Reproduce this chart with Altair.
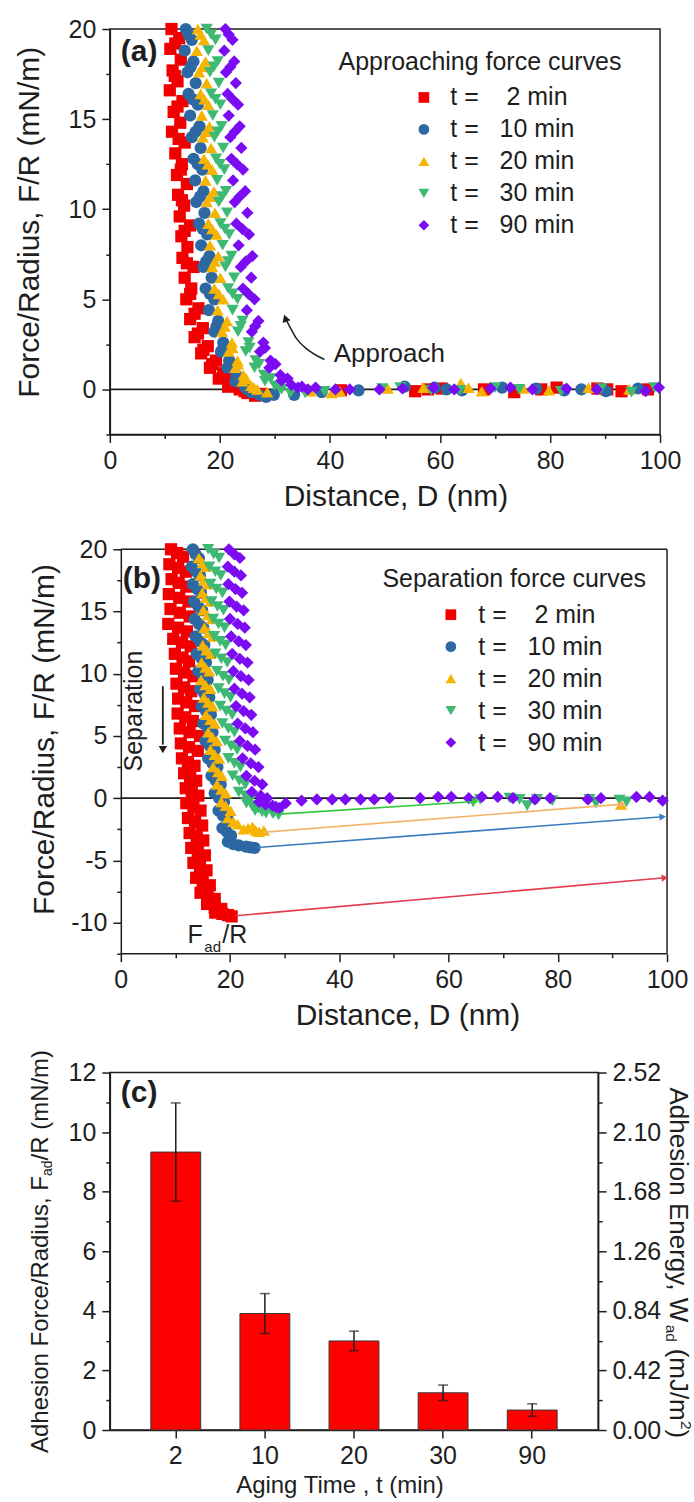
import math
import altair as alt
import pandas as pd

FONT = "Liberation Sans"
INK = "#1e1e1e"

# ---------------------------------------------------------------- series
series_labels = [
    "t =\u00a0\u00a0\u00a0\u00a02 min",
    "t =\u00a0\u00a0\u00a010 min",
    "t =\u00a0\u00a0\u00a020 min",
    "t =\u00a0\u00a0\u00a030 min",
    "t =\u00a0\u00a0\u00a090 min",
]
series_colors = ["#F20000", "#2D68A3", "#F6B400", "#3DB974", "#7B0BF2"]
series_shapes = ["square", "circle", "triangle-up", "triangle-down", "diamond"]

# ---------------------------------------------------------------- (a) approach curves: (D nm, F/R mN/m)
approach_2min = [
    (11.2, 20.0), (12.6, 19.5), (11.0, 18.9), (12.9, 18.3), (11.4, 17.7), (12.3, 17.1),
    (10.9, 16.6), (13.2, 16.0), (11.6, 15.4), (12.8, 14.8), (11.3, 14.3), (13.6, 13.7),
    (11.9, 13.1), (13.1, 12.5), (12.2, 11.9), (14.0, 11.4), (12.4, 10.8), (13.5, 10.2),
    (12.7, 9.6), (14.6, 9.1), (13.0, 8.5), (14.1, 7.9), (13.2, 7.3), (15.2, 6.8),
    (13.6, 6.2), (14.8, 5.6), (13.9, 5.0), (16.1, 4.5), (14.6, 3.9), (16.9, 3.4),
    (15.4, 2.9), (17.8, 2.4), (16.6, 2.0), (19.3, 1.6), (18.2, 1.2), (20.6, 0.9),
    (19.8, 0.6), (22.3, 0.35), (21.5, 0.15), (23.6, 0.0), (25.0, -0.2), (26.4, -0.35),
    (27.5, -0.25),
    (11.9, 19.2), (11.8, 17.4), (12.3, 15.7), (12.5, 13.9), (12.9, 12.2), (13.1, 10.5),
    (13.6, 8.8), (14.0, 7.0), (14.6, 5.3), (15.4, 4.2), (16.0, 3.1), (17.0, 2.2),
    (18.6, 1.4), (20.9, 0.75), (23.0, 0.25), (24.5, -0.1),
    (42.0, -0.05), (55.5, -0.1), (57.8, 0.0), (60.3, 0.05), (68.0, 0.0), (73.5, -0.15),
    (78.4, 0.0), (81.2, 0.1), (88.6, 0.05), (90.4, 0.0), (93.0, -0.1), (97.8, 0.0),
]
approach_10min = [
    (13.8, 20.0), (14.9, 19.4), (13.6, 18.8), (15.2, 18.2), (14.1, 17.6), (15.6, 17.0),
    (14.3, 16.4), (16.0, 15.8), (14.6, 15.2), (16.3, 14.6), (14.9, 14.0), (16.5, 13.4),
    (15.2, 12.8), (16.8, 12.2), (15.5, 11.6), (17.0, 11.0), (15.7, 10.4), (17.2, 9.8),
    (16.2, 9.2), (17.7, 8.6), (16.6, 8.0), (18.1, 7.4), (17.0, 6.8), (18.5, 6.2),
    (17.4, 5.6), (19.0, 5.0), (18.0, 4.4), (19.7, 3.8), (19.0, 3.2), (20.6, 2.6),
    (20.2, 2.1), (21.7, 1.6), (21.4, 1.2), (23.0, 0.8), (22.8, 0.45), (24.5, 0.15),
    (25.6, -0.15), (27.2, -0.3), (28.4, -0.42), (29.8, -0.3),
    (14.3, 19.7), (14.7, 17.9), (15.1, 16.1), (15.6, 14.3), (16.0, 12.5), (16.4, 10.7),
    (16.9, 8.9), (17.5, 7.1), (18.2, 5.3), (19.4, 3.5), (20.6, 2.3), (21.8, 1.4),
    (23.6, 0.6), (25.0, 0.0),
    (33.5, -0.3), (38.5, -0.15), (45.2, -0.05), (53.6, 0.15), (59.0, 0.1), (61.2, 0.0),
    (64.0, -0.05), (71.3, 0.1), (77.5, 0.05), (82.6, -0.05), (85.7, 0.0), (90.2, -0.1),
    (96.0, 0.05),
]
approach_20min = [
    (16.0, 20.0), (17.1, 19.4), (15.8, 18.8), (17.4, 18.2), (16.2, 17.6), (17.6, 17.0),
    (16.5, 16.4), (17.9, 15.8), (16.7, 15.2), (18.1, 14.6), (16.9, 14.0), (18.4, 13.4),
    (17.1, 12.8), (18.6, 12.2), (17.4, 11.6), (18.9, 11.0), (17.6, 10.4), (19.1, 9.8),
    (17.9, 9.2), (19.4, 8.6), (18.2, 8.0), (19.7, 7.4), (18.6, 6.8), (20.1, 6.2),
    (19.0, 5.6), (20.6, 5.0), (19.6, 4.4), (21.3, 3.8), (20.4, 3.2), (22.2, 2.6),
    (21.6, 2.1), (23.2, 1.6), (22.8, 1.2), (24.3, 0.8), (24.1, 0.45), (25.7, 0.2),
    (26.8, 0.0), (28.6, -0.15),
    (16.5, 19.7), (16.8, 17.9), (17.2, 16.1), (17.5, 14.3), (17.8, 12.5), (18.2, 10.7),
    (18.6, 8.9), (19.1, 7.1), (19.8, 5.3), (20.9, 3.5), (22.3, 2.3), (23.3, 1.4),
    (24.8, 0.6), (26.2, 0.1),
    (36.5, -0.1), (40.3, -0.2), (41.8, -0.1), (50.5, 0.05), (57.0, 0.1), (63.8, 0.35),
    (65.2, 0.1), (67.6, -0.1), (75.2, 0.05), (79.8, -0.05), (87.0, 0.1), (94.4, 0.0),
]
approach_30min = [
    (17.6, 20.0), (19.2, 19.4), (17.9, 18.8), (19.6, 18.2), (18.2, 17.6), (19.8, 17.0),
    (18.4, 16.4), (20.1, 15.8), (18.7, 15.2), (20.3, 14.6), (19.0, 14.0), (20.6, 13.4),
    (19.3, 12.8), (20.8, 12.2), (19.5, 11.6), (21.1, 11.0), (19.8, 10.4), (21.3, 9.8),
    (20.1, 9.2), (21.7, 8.6), (20.5, 8.0), (22.1, 7.4), (21.0, 6.8), (22.6, 6.2),
    (21.5, 5.6), (23.2, 5.0), (22.3, 4.4), (24.1, 3.8), (23.3, 3.2), (25.2, 2.6),
    (24.7, 2.1), (26.5, 1.6), (26.3, 1.2), (28.0, 0.8), (28.2, 0.45), (30.0, 0.2),
    (31.2, 0.0), (32.8, -0.2),
    (18.4, 19.7), (18.9, 17.9), (19.2, 16.1), (19.6, 14.3), (20.0, 12.5), (20.4, 10.7),
    (20.9, 8.9), (21.5, 7.1), (22.3, 5.3), (23.8, 3.5), (25.4, 2.3), (27.1, 1.4),
    (29.2, 0.6), (30.8, 0.1),
    (35.5, -0.2), (39.0, -0.1), (49.5, 0.05), (52.8, 0.1), (58.4, -0.05), (63.6, -0.05),
    (70.0, 0.1), (74.4, 0.0), (82.0, -0.1), (89.3, 0.05), (94.8, -0.15), (99.0, 0.1),
]
approach_90min = [
    (21.0, 20.0), (22.3, 19.4), (20.8, 18.8), (22.6, 18.2), (21.1, 17.6), (22.9, 17.0),
    (21.4, 16.4), (23.3, 15.8), (21.6, 15.2), (23.6, 14.6), (21.9, 14.0), (23.9, 13.4),
    (22.1, 12.8), (24.2, 12.2), (22.4, 11.6), (24.6, 11.0), (22.7, 10.4), (25.0, 9.8),
    (23.0, 9.2), (25.3, 8.6), (23.4, 8.0), (25.9, 7.4), (23.8, 6.8), (25.7, 6.2),
    (24.2, 5.6), (26.3, 5.0), (24.9, 4.4), (27.0, 3.8), (25.8, 3.2), (27.9, 2.6),
    (27.3, 2.1), (29.2, 1.6), (29.0, 1.2), (31.0, 0.8), (31.2, 0.5), (33.0, 0.25),
    (34.2, 0.1), (36.0, 0.0),
    (21.6, 19.7), (21.9, 17.9), (22.3, 16.1), (22.7, 14.3), (23.1, 12.5), (23.6, 10.7),
    (24.1, 8.9), (24.7, 7.1), (25.2, 5.3), (26.4, 3.5), (28.2, 2.3), (30.1, 1.4),
    (32.3, 0.6), (34.9, 0.15),
    (37.4, 0.1), (41.0, 0.0), (43.6, 0.0), (49.0, 0.0), (53.2, 0.05), (58.8, 0.1),
    (62.6, 0.0), (69.2, 0.05), (72.8, 0.1), (76.8, 0.0), (83.0, 0.05), (88.5, 0.0),
    (97.4, -0.1), (99.8, 0.1),
]

# ---------------------------------------------------------------- (b) separation curves
separation_2min = [
    (9.2, 20.0), (11.4, 19.4), (8.9, 18.8), (11.9, 18.2), (9.3, 17.6), (12.0, 17.0),
    (8.8, 16.4), (12.4, 15.8), (9.1, 15.2), (12.6, 14.6), (8.7, 14.0), (12.1, 13.4),
    (9.6, 12.8), (12.8, 12.2), (9.9, 11.6), (12.5, 11.0), (10.1, 10.4), (13.3, 9.8),
    (10.2, 9.2), (12.9, 8.6), (10.5, 8.0), (13.6, 7.4), (10.4, 6.8), (13.2, 6.2),
    (10.8, 5.6), (14.5, 5.0), (11.0, 4.4), (14.1, 3.8), (11.2, 3.2), (13.5, 2.6),
    (11.6, 2.0), (13.8, 1.4), (11.9, 0.8), (14.2, 0.2), (12.0, -0.4), (14.6, -1.0),
    (12.3, -1.6), (14.9, -2.2), (12.6, -2.8), (15.1, -3.4), (12.9, -4.0), (15.4, -4.6),
    (13.3, -5.2), (15.7, -5.8), (13.8, -6.4), (16.3, -7.0), (14.6, -7.6), (17.2, -8.1),
    (15.8, -8.5), (18.4, -8.9), (17.3, -9.2), (19.6, -9.4), (20.3, -9.5),
    (10.3, 19.7), (10.5, 18.5), (10.6, 17.3), (10.7, 16.1), (10.8, 14.9), (10.5, 13.7),
    (11.2, 12.5), (11.3, 11.3), (11.6, 10.1), (11.6, 8.9), (12.0, 7.7), (11.8, 6.5),
    (12.6, 5.3), (12.5, 4.1), (12.3, 2.9), (12.7, 1.7), (13.0, 0.5), (13.3, -0.7),
    (13.6, -1.9), (13.9, -3.1), (14.1, -4.3), (14.5, -5.5), (15.0, -6.7), (15.9, -7.9),
    (17.2, -8.8), (18.6, -9.3),
]
separation_10min = [
    (13.2, 20.0), (14.3, 19.3), (13.0, 18.6), (14.5, 17.9), (13.2, 17.2), (14.7, 16.5),
    (13.4, 15.8), (14.9, 15.1), (13.5, 14.4), (15.1, 13.7), (13.7, 13.0), (15.3, 12.3),
    (13.9, 11.6), (15.6, 10.9), (14.2, 10.2), (15.9, 9.5), (14.5, 8.8), (16.2, 8.1),
    (14.8, 7.4), (16.5, 6.7), (15.1, 6.0), (16.8, 5.3), (15.5, 4.6), (17.2, 3.9),
    (16.0, 3.2), (17.7, 2.5), (16.6, 1.8), (18.3, 1.1), (17.2, 0.4), (18.9, -0.3),
    (17.9, -1.0), (19.6, -1.7), (18.6, -2.4), (20.2, -3.0), (19.6, -3.5), (21.6, -3.8),
    (22.9, -3.9), (24.5, -4.0),
    (13.7, 19.6), (13.8, 18.2), (14.0, 16.8), (14.2, 15.4), (14.3, 14.0), (14.5, 12.6),
    (14.8, 11.2), (15.0, 9.8), (15.3, 8.4), (15.6, 7.0), (16.0, 5.6), (16.3, 4.2),
    (16.8, 2.8), (17.4, 1.4), (18.0, 0.0), (18.7, -1.4), (19.4, -2.7), (20.6, -3.7),
    (23.7, -3.95),
]
separation_20min = [
    (14.3, 19.3), (15.6, 18.6), (14.6, 17.9), (16.0, 17.2), (14.9, 16.5), (16.4, 15.8),
    (15.1, 15.1), (16.7, 14.4), (15.3, 13.7), (16.9, 13.0), (15.0, 12.3), (16.5, 11.6),
    (14.8, 10.9), (16.2, 10.2), (14.7, 9.5), (16.4, 8.8), (15.2, 8.1), (16.8, 7.4),
    (15.6, 6.7), (17.2, 6.0), (16.0, 5.3), (17.6, 4.6), (16.4, 3.9), (18.0, 3.2),
    (16.9, 2.5), (18.5, 1.8), (17.6, 1.1), (19.2, 0.4), (18.4, -0.3), (20.1, -1.0),
    (19.6, -1.6), (21.4, -2.1), (22.5, -2.5), (24.1, -2.3), (25.3, -2.7), (26.2, -2.6),
    (15.0, 18.9), (15.3, 17.5), (15.6, 16.1), (15.9, 14.7), (16.1, 13.3), (15.7, 11.9),
    (15.5, 10.5), (15.5, 9.1), (16.0, 7.7), (16.4, 6.3), (16.8, 4.9), (17.2, 3.5),
    (17.8, 2.1), (18.4, 0.7), (19.2, -0.6), (20.6, -1.9), (23.3, -2.4), (24.7, -2.6),
    (91.6, -0.5),
]
separation_30min = [
    (16.0, 20.0), (18.0, 19.3), (16.2, 18.6), (18.3, 17.9), (16.4, 17.2), (18.6, 16.5),
    (16.6, 15.8), (18.8, 15.1), (16.9, 14.4), (19.0, 13.7), (17.1, 13.0), (19.2, 12.3),
    (17.3, 11.6), (19.5, 10.9), (17.6, 10.2), (19.8, 9.5), (17.9, 8.8), (20.1, 8.1),
    (18.2, 7.4), (20.4, 6.7), (18.6, 6.0), (20.8, 5.3), (19.1, 4.6), (21.3, 3.9),
    (19.7, 3.2), (21.9, 2.5), (20.5, 1.8), (22.8, 1.1), (21.6, 0.5), (23.9, 0.0),
    (23.0, -0.4), (25.2, -0.8), (24.6, -1.0), (26.6, -1.2), (27.7, -1.1), (28.9, -1.35),
    (17.0, 19.6), (17.3, 18.2), (17.5, 16.8), (17.7, 15.4), (17.9, 14.0), (18.2, 12.6),
    (18.4, 11.2), (18.7, 9.8), (19.0, 8.4), (19.3, 7.0), (19.7, 5.6), (20.2, 4.2),
    (20.8, 2.8), (21.7, 1.4), (22.8, 0.2), (24.0, -0.6), (25.9, -1.1), (27.9, -1.25),
    (64.5, -0.3), (65.8, -0.1), (71.2, 0.0), (73.0, -0.1), (74.4, -0.6), (76.2, -0.1),
    (79.0, -0.2), (85.8, -0.1), (87.0, -0.4), (91.3, -0.15), (92.6, -0.3),
]
separation_90min = [
    (19.8, 20.0), (21.8, 19.3), (19.6, 18.6), (22.0, 17.9), (19.7, 17.2), (22.2, 16.5),
    (19.9, 15.8), (22.5, 15.1), (20.0, 14.4), (22.7, 13.7), (20.2, 13.0), (22.9, 12.3),
    (20.4, 11.6), (23.2, 10.9), (20.6, 10.2), (23.4, 9.5), (20.8, 8.8), (23.6, 8.1),
    (21.1, 7.4), (23.9, 6.7), (21.4, 6.0), (24.2, 5.3), (21.8, 4.6), (24.6, 3.9),
    (22.3, 3.2), (25.2, 2.5), (23.0, 1.8), (25.9, 1.1), (24.0, 0.5), (26.8, 0.0),
    (25.3, -0.3), (27.8, -0.6), (29.0, -0.8), (30.2, -0.4),
    (20.8, 19.6), (20.8, 18.2), (21.0, 16.8), (21.2, 15.4), (21.4, 14.0), (21.6, 12.6),
    (21.8, 11.2), (22.0, 9.8), (22.2, 8.4), (22.5, 7.0), (22.8, 5.6), (23.2, 4.2),
    (23.8, 2.8), (24.5, 1.4), (25.6, 0.2), (26.5, -0.5), (28.4, -0.7),
    (33.1, -0.2), (35.9, -0.1), (38.7, -0.1), (41.1, -0.1), (43.9, -0.1), (46.4, -0.1),
    (49.2, 0.0), (54.8, 0.0), (58.1, 0.1), (60.5, 0.1), (63.7, 0.0), (66.1, 0.1),
    (69.0, 0.1), (71.8, 0.0), (75.8, -0.1), (78.6, 0.0), (85.5, -0.1), (87.9, 0.0),
    (94.4, 0.1), (96.8, 0.1), (99.2, -0.2),
]

# jump-out on separation: from the adhesion minimum to where the surfaces land
jump_start_d = [21.0, 25.0, 25.8, 29.0]
jump_start_f = [-9.45, -3.96, -2.75, -1.28]
jump_end_d = [99.6, 99.2, 91.9, 64.9]
jump_end_f = [-6.4, -1.5, -0.48, -0.27]
jump_colors = ["#E63B4E", "#3A7CBF", "#F2B46A", "#33C93A"]

# ---------------------------------------------------------------- (c) adhesion vs aging time
aging_times = ["2", "10", "20", "30", "90"]
adhesion_force = [9.33, 3.91, 2.99, 1.25, 0.67]
adhesion_force_err = [1.65, 0.67, 0.33, 0.26, 0.21]
energy_ticks = [0.0, 0.21, 0.42, 0.63, 0.84, 1.05, 1.26, 1.47, 1.68, 1.89, 2.10, 2.31, 2.52]

# ---------------------------------------------------------------- helpers
MARK_SIZE = 150


def curve_frame(curves):
    rows = []
    for label, pts in zip(series_labels, curves):
        for d, f in pts:
            rows.append({"D": d, "F": f, "series": label})
    return pd.DataFrame(rows)


def tick_len(test):
    return {"condition": {"test": test, "value": 8}, "value": 4}


axis_common = dict(
    labelFont=FONT, labelFontSize=25, labelColor=INK,
    titleFont=FONT, titleColor=INK, titleFontWeight="normal",
    domainColor=INK, domainWidth=1.5, tickColor=INK, tickWidth=1.5,
    grid=False, labelFlush=False, labelOverlap=False,
)


def legend_for(title, x, y, sym_off, lab_off):
    return alt.Legend(
        title=title, orient="none", legendX=x, legendY=y, padding=0,
        titleFont=FONT, titleFontSize=25, titleFontWeight="normal", titleColor=INK,
        titlePadding=10, titleLimit=500,
        labelFont=FONT, labelFontSize=25, labelColor=INK, labelLimit=400,
        symbolSize=115, symbolStrokeWidth=0, symbolOffset=sym_off, labelOffset=lab_off,
        rowPadding=6,
    )


def one_row():
    return pd.DataFrame({"k": [0]})


def extent_rule(left, top, bottom):
    # invisible guide that fixes the panel's outer bounds in the stacked layout
    return alt.Chart(one_row()).mark_rule(opacity=0).encode(
        x=alt.value(-left), x2=alt.value(-left), y=alt.value(-top), y2=alt.value(bottom)
    )


def panel_label(text, x, y):
    return alt.Chart(one_row()).mark_text(
        text=text, font=FONT, fontSize=30, fontWeight="bold", color=INK,
        align="left", baseline="middle",
    ).encode(x=alt.value(x), y=alt.value(y))


dist_ticks = list(range(0, 101, 10))

# ================================================================ panel (a)
A_W, A_H = 551, 406
xa_scale = alt.Scale(domain=[0, 100], nice=False, zero=False)
ya_scale = alt.Scale(domain=[-2.5, 20], nice=False, zero=False)
force_ticks_a = [-2.5, 0, 2.5, 5, 7.5, 10, 12.5, 15, 17.5, 20]

xa_axis = alt.Axis(
    values=dist_ticks, labelExpr="datum.value % 20 === 0 ? '' + datum.value : ''",
    tickSize=tick_len("datum.value % 20 === 0"), labelPadding=6,
    title="Distance, D (nm)", titleFontSize=30, titleX=286, titleY=62,
    titleBaseline="middle", titleAlign="center", **axis_common)
ya_axis = alt.Axis(
    values=force_ticks_a, labelExpr="datum.value % 5 === 0 ? '' + datum.value : ''",
    tickSize=tick_len("datum.value % 5 === 0"), labelPadding=6,
    title="Force/Radius, F/R (mN/m)", titleFontSize=30, titleX=-80, titleY=193,
    titleAngle=270, titleBaseline="middle", titleAlign="center", **axis_common)


def xa(field):
    return alt.X(field, type="quantitative", scale=xa_scale, axis=xa_axis)


def ya(field):
    return alt.Y(field, type="quantitative", scale=ya_scale, axis=ya_axis)


df_a = curve_frame([approach_2min, approach_10min, approach_20min, approach_30min, approach_90min])
legend_a = legend_for("Approaching force curves", 229, 21, 73, 14)

zero_a = alt.Chart(pd.DataFrame({"F": [0.0]})).mark_rule(color=INK, strokeWidth=1.8).encode(y=ya("F"))

points_a = alt.Chart(df_a).mark_point(filled=True, size=MARK_SIZE, opacity=1).encode(
    x=xa("D"), y=ya("F"),
    color=alt.Color("series:N", scale=alt.Scale(domain=series_labels, range=series_colors), legend=legend_a),
    shape=alt.Shape("series:N", scale=alt.Scale(domain=series_labels, range=series_shapes), legend=legend_a),
)

approach_path = [(39.0, 1.66), (35.9, 2.22), (33.9, 2.83), (32.7, 3.49), (31.9, 3.95)]
path_df = pd.DataFrame(approach_path, columns=["D", "F"])
approach_curve = alt.Chart(path_df).mark_line(color=INK, strokeWidth=1.5, interpolate="monotone").encode(
    x=xa("D"), y=ya("F"))
approach_head = alt.Chart(path_df.tail(1)).mark_point(
    shape="triangle-up", filled=True, size=70, color=INK, opacity=1, angle=340).encode(
    x=xa("D"), y=ya("F"))
approach_text = alt.Chart(pd.DataFrame({"D": [40.7], "F": [1.94]})).mark_text(
    text="Approach", font=FONT, fontSize=26, color=INK, align="left", baseline="middle").encode(
    x=xa("D"), y=ya("F"))

panel_a = alt.layer(
    zero_a, points_a, approach_curve, approach_head, approach_text,
    panel_label("(a)", 11, 23), extent_rule(109, 27, 499),
).properties(width=A_W, height=A_H)

# ================================================================ panel (b)
B_W, B_H = 558, 405
B_X0 = -2.0  # plot frame begins a little left of D = 0
xb_scale = alt.Scale(domain=[B_X0, 100], nice=False, zero=False)
yb_scale = alt.Scale(domain=[-12.5, 20], nice=False, zero=False)
force_ticks_b = [-12.5, -10, -7.5, -5, -2.5, 0, 2.5, 5, 7.5, 10, 12.5, 15, 17.5, 20]
px_per_d = B_W / (100 - B_X0)
px_per_f = B_H / 32.5

xb_axis = alt.Axis(
    values=dist_ticks, labelExpr="datum.value % 20 === 0 ? '' + datum.value : ''",
    tickSize=tick_len("datum.value % 20 === 0"), labelPadding=6, domain=False,
    title="Distance, D (nm)", titleFontSize=30, titleX=298, titleY=62,
    titleBaseline="middle", titleAlign="center", **axis_common)
yb_axis = alt.Axis(
    values=force_ticks_b, labelExpr="datum.value % 5 === 0 ? '' + datum.value : ''",
    tickSize=tick_len("datum.value % 5 === 0"), labelPadding=6, offset=-11,
    title="Force/Radius, F/R (mN/m)", titleFontSize=30, titleX=-76, titleY=190,
    titleAngle=270, titleBaseline="middle", titleAlign="center", **axis_common)


def xb(field):
    return alt.X(field, type="quantitative", scale=xb_scale, axis=xb_axis)


def yb(field):
    return alt.Y(field, type="quantitative", scale=yb_scale, axis=yb_axis)


df_b = curve_frame([separation_2min, separation_10min, separation_20min, separation_30min, separation_90min])
legend_b = legend_for("Separation force curves", 273, 18, 56, 15)

# frame drawn from D = 0 so the left edge sits on the offset y axis
frame_df = pd.DataFrame({
    "d0": [0, 100, 0], "f0": [20, -12.5, -12.5],
    "d1": [100, 100, 100], "f1": [20, 20, -12.5],
})
frame_b = alt.Chart(frame_df).mark_rule(color=INK, strokeWidth=1.5).encode(
    x=xb("d0"), x2="d1:Q", y=yb("f0"), y2="f1:Q")

zero_b = alt.Chart(pd.DataFrame({"d0": [0], "d1": [100], "f0": [0.0]})).mark_rule(
    color=INK, strokeWidth=1.8).encode(x=xb("d0"), x2="d1:Q", y=yb("f0"))

points_b = alt.Chart(df_b).mark_point(filled=True, size=MARK_SIZE, opacity=1).encode(
    x=xb("D"), y=yb("F"),
    color=alt.Color("series:N", scale=alt.Scale(domain=series_labels, range=series_colors), legend=legend_b),
    shape=alt.Shape("series:N", scale=alt.Scale(domain=series_labels, range=series_shapes), legend=legend_b),
)

jumps = pd.DataFrame({
    "d0": jump_start_d, "f0": jump_start_f, "d1": jump_end_d, "f1": jump_end_f, "c": jump_colors,
})
jumps["angle"] = [
    (math.degrees(math.atan2(-(f1 - f0) * px_per_f, (d1 - d0) * px_per_d)) + 360) % 360
    for d0, f0, d1, f1 in zip(jump_start_d, jump_start_f, jump_end_d, jump_end_f)
]
jump_lines = alt.Chart(jumps).mark_rule(strokeWidth=1.6).encode(
    x=xb("d0"), x2="d1:Q", y=yb("f0"), y2="f1:Q", color=alt.Color("c:N", scale=None))
jump_heads = alt.Chart(jumps).mark_point(shape="triangle-right", filled=True, size=55, opacity=1).encode(
    x=xb("d1"), y=yb("f1"), color=alt.Color("c:N", scale=None), angle=alt.Angle("angle:Q", scale=None))

sep_arrow = alt.Chart(pd.DataFrame({"d0": [7.7], "f0": [9.0], "f1": [4.3]})).mark_rule(
    color=INK, strokeWidth=1.8).encode(x=xb("d0"), y=yb("f0"), y2="f1:Q")
sep_head = alt.Chart(pd.DataFrame({"d0": [7.7], "f0": [3.9]})).mark_point(
    shape="triangle-down", filled=True, size=70, color=INK, opacity=1).encode(x=xb("d0"), y=yb("f0"))
sep_text = alt.Chart(pd.DataFrame({"d0": [2.4], "f0": [7.0]})).mark_text(
    text="Separation", font=FONT, fontSize=25, color=INK, angle=270,
    align="center", baseline="middle").encode(x=xb("d0"), y=yb("f0"))


def b_text(text, d, f, size):
    return alt.Chart(pd.DataFrame({"d0": [d], "f0": [f]})).mark_text(
        text=text, font=FONT, fontSize=size, color=INK, align="left", baseline="middle").encode(
        x=xb("d0"), y=yb("f0"))


fad_label = [b_text("F", 12.2, -11.0, 25), b_text("ad", 15.3, -12.0, 15), b_text("/R", 18.6, -11.0, 25)]

panel_b = alt.layer(
    frame_b, zero_b, points_b, jump_lines, jump_heads, sep_arrow, sep_head, sep_text,
    *fad_label, panel_label("(b)", 13, 30), extent_rule(109, 20, 499),
).properties(width=B_W, height=B_H, view=alt.ViewBackground(stroke="transparent"))

# ================================================================ panel (c)
C_W, C_H = 489, 358
bars_df = pd.DataFrame({"t": aging_times, "F": adhesion_force, "err": adhesion_force_err})
bars_df["lo"] = bars_df["F"] - bars_df["err"]
bars_df["hi"] = bars_df["F"] + bars_df["err"]

xc_scale = alt.Scale(domain=aging_times, paddingInner=0.44, paddingOuter=0.46)
yc_scale = alt.Scale(domain=[0, 12], nice=False, zero=True)
xc_axis = alt.Axis(
    labelAngle=0, tickSize=8, labelPadding=6, bandPosition=0.5,
    title="Aging Time , t (min)", titleFontSize=24, titleX=230, titleY=56,
    titleBaseline="middle", titleAlign="center", **axis_common)
yc_axis = alt.Axis(
    values=list(range(0, 13)), labelExpr="datum.value % 2 === 0 ? '' + datum.value : ''",
    tickSize=tick_len("datum.value % 2 === 0"), labelPadding=6, title=None, **axis_common)


def xc():
    return alt.X("t:N", scale=xc_scale, sort=aging_times, axis=xc_axis)


def yc(field):
    return alt.Y(field, type="quantitative", scale=yc_scale, axis=yc_axis)


bars = alt.Chart(bars_df).mark_bar(color="#FF0000", stroke="#3a3a3a", strokeWidth=1).encode(x=xc(), y=yc("F"))
err_rules = alt.Chart(bars_df).mark_rule(color=INK, strokeWidth=1.5).encode(x=xc(), y=yc("lo"), y2="hi:Q")
err_top = alt.Chart(bars_df).mark_tick(orient="horizontal", size=10, thickness=1.5, color=INK).encode(
    x=xc(), y=yc("hi"))
err_bot = alt.Chart(bars_df).mark_tick(orient="horizontal", size=10, thickness=1.5, color=INK).encode(
    x=xc(), y=yc("lo"))


def c_text(text, x, y, size, angle):
    return alt.Chart(one_row()).mark_text(
        text=text, font=FONT, fontSize=size, color=INK, angle=angle,
        align="left", baseline="middle").encode(x=alt.value(x), y=alt.value(y))


# rotated titles with sub/superscripts, written piece by piece
left_title = [
    c_text("Adhesion Force/Radius, F", -69, 381, 24, 270),
    c_text("ad", -62, 103.6, 14, 270),
    c_text("/R (mN/m)", -69, 88, 24, 270),
]
right_title = [
    c_text("Adhesion Energy, W", 569, 15, 26, 90),
    c_text("ad", 562, 252.5, 15.5, 90),
    c_text("(mJ/m", 569, 276.5, 26, 90),
    c_text("2", 577, 349, 15.5, 90),
    c_text(")", 569, 357.5, 26, 90),
]

left_layer = alt.layer(
    bars, err_rules, err_top, err_bot, *left_title, *right_title,
    panel_label("(c)", 11, 21), extent_rule(109, 20, 428),
)

energy_axis = alt.Chart(pd.DataFrame({"W": energy_ticks})).mark_point(opacity=0).encode(
    y=alt.Y("W:Q", scale=alt.Scale(domain=[0, 2.52], nice=False, zero=True), axis=alt.Axis(
        orient="right", values=energy_ticks,
        labelExpr="round(datum.value * 100) % 42 === 0 ? format(datum.value, '.2f') : ''",
        tickSize=tick_len("round(datum.value * 100) % 42 === 0"), labelPadding=6, title=None,
        **axis_common)))

panel_c = alt.layer(left_layer, energy_axis).resolve_scale(y="independent").properties(
    width=C_W, height=C_H)

chart = alt.vconcat(panel_a, panel_b, panel_c, spacing=0).resolve_scale(
    color="independent", shape="independent"
).properties(padding=0, background="white").configure_view(stroke=INK, strokeWidth=1.5)

chart.save("out.html", embed_options={"renderer": "svg", "actions": False})
